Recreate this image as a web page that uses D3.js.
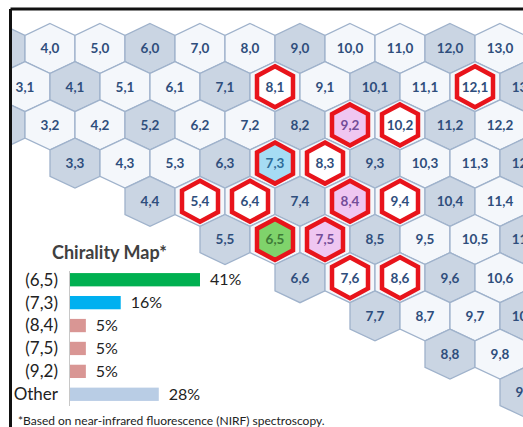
<!DOCTYPE html>
<html>
<head>
<meta charset="utf-8">
<script src="https://cdn.jsdelivr.net/npm/d3@7"></script>
<style>
  body { margin: 0; background: #fff; }
  svg { display: block; font-family: Lato, "Open Sans", sans-serif; }
</style>
</head>
<body>
<div id="chart"></div>
<script>
// hex grid rows: chiral index m, first and last n shown in that row
var rowM = [0, 1, 2, 3, 4, 5, 6, 7, 8, 9];
var rowFirstN = [3, 3, 2, 3, 4, 5, 6, 7, 8, 9];
var rowLastN = [13, 13, 12, 12, 11, 11, 10, 10, 9, 9];

// outlined in red (found in sample)
var outlined = ["8,1", "12,1", "9,2", "10,2", "7,3", "8,3", "5,4", "6,4",
                "8,4", "9,4", "6,5", "7,5", "7,6", "8,6"];
var specialCells = ["6,5", "7,3", "8,4", "7,5", "9,2"];
var specialFill = ["#7fd36b", "#a6dcf4", "#efc6f1", "#efc6f1", "#efc6f1"];
var specialText = ["#3d7a37", "#2f6d99", "#744d98", "#744d98", "#744d98"];

// chirality map bars
var barLabels = ["(6,5)", "(7,3)", "(8,4)", "(7,5)", "(9,2)", "Other"];
var barValues = [41, 16, 5, 5, 5, 28];
var barColors = ["#00b050", "#00b0f0", "#d99694", "#d99694", "#d99694", "#b9cde5"];

var svgWidth = 523, svgHeight = 427;

var svg = d3.select("#chart").append("svg")
    .attr("width", svgWidth)
    .attr("height", svgHeight);

svg.append("defs").append("clipPath").attr("id", "frameClip")
  .append("rect").attr("x", 12).attr("y", 12).attr("width", 520).attr("height", 420);

// build cell list from the rows
var cells = [];
rowM.forEach(function(m, i) {
  for (var n = rowFirstN[i]; n <= rowLastN[i]; n++) {
    cells.push({n: n, m: m, key: n + "," + m});
  }
});

// scales: horizontal position is n + m/2, vertical is m
var xScale = d3.scaleLinear().domain([3, 13]).range([0, 500]);
var yScale = d3.scaleLinear().domain([0, 9]).range([48.5, 392.3]);

function hexPath(w, h, s) {
  return "M0," + (-h) + "L" + w + "," + (-s) + "L" + w + "," + s +
         "L0," + h + "L" + (-w) + "," + s + "L" + (-w) + "," + (-s) + "Z";
}

var gridGroup = svg.append("g").attr("clip-path", "url(#frameClip)");

var cell = gridGroup.selectAll("g.cell")
  .data(cells)
  .enter()
  .append("g")
  .attr("class", "cell")
  .attr("transform", d => `translate(${xScale(d.n + d.m / 2)}, ${yScale(d.m)})`);

cell.append("path")
  .attr("d", hexPath(25, 25, 13.2))
  .attr("fill", d => ((d.n - d.m) % 3 === 0) ? "#cad5e3" : "#f4f7fb")
  .attr("stroke", "#9fb2cb")
  .attr("stroke-width", 1.3);

cell.filter(d => outlined.indexOf(d.key) >= 0)
  .append("path")
  .attr("d", hexPath(18, 20.5, 10.8))
  .attr("fill", function(d) {
    var i = specialCells.indexOf(d.key);
    return i >= 0 ? specialFill[i] : "#ffffff";
  })
  .attr("stroke", "#e8141b")
  .attr("stroke-width", 4.5)
  .attr("stroke-linejoin", "miter");

// labels only where the cell centre is inside the frame (left edge ones are hidden)
cell.filter(d => xScale(d.n + d.m / 2) > 12)
  .append("text")
  .text(d => d.key)
  .attr("text-anchor", "middle")
  .attr("dy", "0.36em")
  .attr("font-size", "13.5px")
  .attr("font-weight", "bold")
  .attr("fill", function(d) {
    var i = specialCells.indexOf(d.key);
    return i >= 0 ? specialText[i] : "#2f4e7c";
  });

// frame lines
svg.append("line")
  .attr("x1", 10.5).attr("y1", 9).attr("x2", 523).attr("y2", 9)
  .attr("stroke", "#111").attr("stroke-width", 3);
svg.append("line")
  .attr("x1", 10.5).attr("y1", 9).attr("x2", 10.5).attr("y2", 427)
  .attr("stroke", "#111").attr("stroke-width", 3);

// bar chart
var barX = d3.scaleLinear().domain([0, 41]).range([70, 200]);
var barY = d3.scaleBand().domain(barLabels).range([268.5, 405.5]).paddingInner(0.42).paddingOuter(0.2);

svg.append("text")
  .attr("x", 52).attr("y", 259)
  .attr("font-size", "18px")
  .attr("font-weight", "bold")
  .attr("fill", "#404040")
  .text("Chirality Map*");

svg.append("line")
  .attr("x1", 69.5).attr("x2", 69.5)
  .attr("y1", 271).attr("y2", 406)
  .attr("stroke", "#c8c8c8").attr("stroke-width", 1);

svg.selectAll("rect.bar")
  .data(barValues)
  .enter()
  .append("rect")
  .attr("class", "bar")
  .attr("x", barX(0))
  .attr("y", (d, i) => barY(barLabels[i]))
  .attr("width", d => barX(d) - barX(0))
  .attr("height", barY.bandwidth())
  .attr("fill", (d, i) => barColors[i]);

svg.selectAll("text.cat")
  .data(barLabels)
  .enter()
  .append("text")
  .attr("class", "cat")
  .attr("x", 58)
  .attr("y", d => barY(d) + barY.bandwidth() / 2)
  .attr("dy", "0.35em")
  .attr("text-anchor", "end")
  .attr("font-size", "17px")
  .attr("fill", "#222")
  .text(d => d);

svg.selectAll("text.val")
  .data(barValues)
  .enter()
  .append("text")
  .attr("class", "val")
  .attr("x", d => barX(d) + 10)
  .attr("y", (d, i) => barY(barLabels[i]) + barY.bandwidth() / 2)
  .attr("dy", "0.35em")
  .attr("font-size", "16px")
  .attr("fill", "#222")
  .text(d => d + "%");

svg.append("text")
  .attr("x", 18).attr("y", 425)
  .attr("font-size", "12px")
  .attr("fill", "#222")
  .text("*Based on near-infrared fluorescence (NIRF) spectroscopy.");
</script>
</body>
</html>
